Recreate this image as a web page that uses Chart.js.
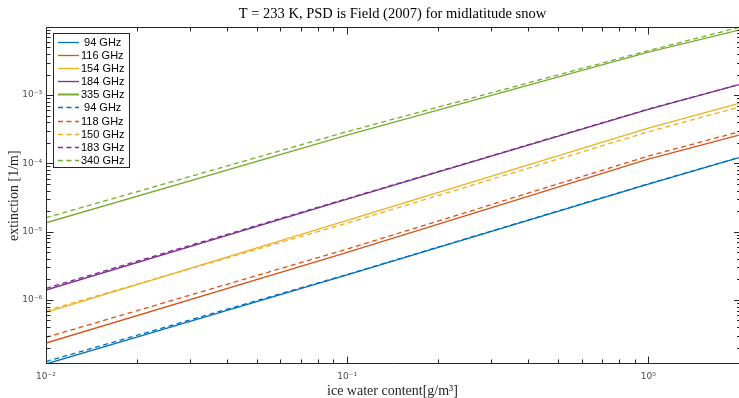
<!DOCTYPE html>
<html>
<head>
<meta charset="utf-8">
<script src="https://cdn.jsdelivr.net/npm/chart.js@4/dist/chart.umd.min.js"></script>
<style>
html,body{margin:0;padding:0;background:#fff;}
#wrap{width:739px;height:398px;position:relative;}
</style>
</head>
<body>
<div id="wrap"><canvas id="c" width="739" height="398"></canvas></div>
<script>
// ---- data ----
const iwc = [0.01, 0.1, 1, 2];               // ice water content [g/m^3]
const seriesLabels = [' 94 GHz','116 GHz','154 GHz','184 GHz','335 GHz',' 94 GHz','118 GHz','150 GHz','183 GHz','340 GHz'];
const solid94  = [1.153e-7, 2.32e-6, 4.98e-5, 1.216e-4];
const solid116 = [2.34e-7, 4.98e-6, 1.156e-4, 2.60e-4];
const solid154 = [6.58e-7, 1.463e-5, 3.29e-4, 7.56e-4];
const solid184 = [1.396e-6, 3.00e-5, 6.18e-4, 1.426e-3];
const solid335 = [1.349e-5, 2.60e-4, 4.27e-3, 8.96e-3];
const dash94   = [1.25e-7, 2.36e-6, 5.02e-5, 1.22e-4];
const dash118  = [2.83e-7, 5.56e-6, 1.279e-4, 2.90e-4];
const dash150  = [6.95e-7, 1.336e-5, 2.90e-4, 6.67e-4];
const dash183  = [1.479e-6, 3.05e-5, 6.24e-4, 1.426e-3];
const dash340  = [1.60e-5, 2.92e-4, 4.48e-3, 9.79e-3];
const xTickValues = [0.01, 0.1, 1];
const yTickValues = [1e-6, 1e-5, 1e-4, 1e-3];

const colors = ['#0072BD','#D95319','#EDB120','#7E2F8E','#77AC30'];
const allSeries = [solid94, solid116, solid154, solid184, solid335, dash94, dash118, dash150, dash183, dash340];

const datasets = allSeries.map((vals, i) => ({
  label: seriesLabels[i],
  data: iwc.map((x, j) => ({x: x, y: vals[j]})),
  borderColor: colors[i % 5],
  backgroundColor: colors[i % 5],
  borderWidth: 1.3,
  borderDash: i >= 5 ? [5, 3.5] : [],
  pointRadius: 0,
  fill: false,
  tension: 0
}));

const sup = {'-':'\u207B','0':'\u2070','1':'\u00B9','2':'\u00B2','3':'\u00B3','4':'\u2074','5':'\u2075','6':'\u2076','7':'\u2077','8':'\u2078','9':'\u2079'};
function powLabel(v){
  const e = Math.round(Math.log10(v));
  return '10' + String(e).split('').map(c => sup[c]).join('');
}
function isPow10(v){ const l = Math.log10(v); return Math.abs(l - Math.round(l)) < 1e-9; }
function logSubTicks(min, max){
  const out = [];
  for (let e = Math.floor(Math.log10(min)); e <= Math.ceil(Math.log10(max)); e++){
    for (let k = 1; k <= 9; k++){
      const v = k * Math.pow(10, e);
      if (v >= min * 0.9999 && v <= max * 1.0001) out.push({v: v, major: k === 1});
    }
  }
  return out;
}

const axisBox = {
  id: 'axisBox',
  afterDatasetsDraw(chart){
    const {ctx, chartArea: a, scales: {x, y}} = chart;
    ctx.save();
    ctx.strokeStyle = '#262626';
    ctx.lineWidth = 1;
    const L = Math.round(a.left) + 0.5, T = Math.round(a.top) + 0.5, B = Math.round(a.bottom) - 0.5, R = a.right + 2;
    ctx.beginPath();
    ctx.moveTo(L, T); ctx.lineTo(R, T);
    ctx.moveTo(L, T); ctx.lineTo(L, B);
    ctx.moveTo(L, B); ctx.lineTo(R, B);
    for (const t of logSubTicks(x.min, x.max)){
      const px = Math.round(x.getPixelForValue(t.v)) + 0.5;
      const len = t.major ? 7 : 4;
      ctx.moveTo(px, B); ctx.lineTo(px, B - len);
      ctx.moveTo(px, T); ctx.lineTo(px, T + len);
    }
    const Rx = a.right + 2;
    for (const t of logSubTicks(y.min, y.max)){
      const py = Math.round(y.getPixelForValue(t.v)) + 0.5;
      const len = t.major ? 7 : 4;
      ctx.moveTo(L, py); ctx.lineTo(L + len, py);
      ctx.moveTo(Rx, py); ctx.lineTo(Rx - len, py);
    }
    ctx.stroke();
    ctx.restore();
  },
  afterDraw(chart){
    const {ctx} = chart;
    ctx.save();
    const x0 = 53.5, y0 = 33.5, w = 76, h = 134;
    ctx.fillStyle = '#ffffff';
    ctx.fillRect(x0, y0, w, h);
    ctx.strokeStyle = '#262626';
    ctx.lineWidth = 1;
    ctx.strokeRect(x0, y0, w, h);
    ctx.font = '11px "Liberation Sans", Arial, sans-serif';
    ctx.textBaseline = 'middle';
    ctx.textAlign = 'left';
    chart.data.datasets.forEach((ds, i) => {
      const cy = Math.round(41.7 + i * 13.15) + 0.5;
      ctx.strokeStyle = ds.borderColor;
      ctx.lineWidth = i === 4 ? 2 : 1.3;
      ctx.setLineDash(ds.borderDash);
      ctx.beginPath();
      ctx.moveTo(58, cy); ctx.lineTo(79, cy);
      ctx.stroke();
      ctx.setLineDash([]);
      ctx.fillStyle = '#000';
      ctx.fillText(ds.label, 81, cy + 0.5);
    });
    ctx.restore();
  }
};

new Chart(document.getElementById('c'), {
  type: 'line',
  data: { datasets: datasets },
  options: {
    responsive: false,
    animation: false,
    devicePixelRatio: 1,
    layout: { padding: 0 },
    plugins: {
      legend: { display: false },
      tooltip: { enabled: false },
      title: {
        display: true,
        fullSize: false,
        text: 'T = 233 K, PSD is Field (2007) for midlatitude snow',
        color: '#000',
        font: { family: '"Liberation Serif", "DejaVu Serif", serif', size: 14.5, weight: 'normal' },
        padding: { top: 5, bottom: 5 }
      }
    },
    scales: {
      x: {
        type: 'logarithmic',
        position: 'bottom',
        min: 0.01,
        max: 2,
        grid: { display: false, drawTicks: false },
        border: { display: false },
        afterBuildTicks: s => { s.ticks = xTickValues.map(v => ({value: v})); },
        afterFit: s => { s.height = 34; },
        ticks: {
          autoSkip: false, maxRotation: 0, padding: 7,
          color: '#4d4d4d',
          font: { family: '"DejaVu Sans", sans-serif', size: 9 },
          callback: v => isPow10(v) ? powLabel(v) : ''
        },
        title: {
          display: true,
          text: 'ice water content[g/m\u00B3]',
          color: '#262626',
          font: { family: '"Liberation Serif", "DejaVu Serif", serif', size: 14, lineHeight: 1 },
          padding: 0
        }
      },
      y: {
        type: 'logarithmic',
        position: 'left',
        min: 1.153e-7,
        max: 9.8e-3,
        grid: { display: false, drawTicks: false },
        border: { display: false },
        afterBuildTicks: s => { s.ticks = yTickValues.map(v => ({value: v})); },
        afterFit: s => { s.width = 46; },
        ticks: {
          autoSkip: false, padding: 4,
          color: '#4d4d4d',
          font: { family: '"DejaVu Sans", sans-serif', size: 9 },
          callback: v => isPow10(v) ? powLabel(v) : ''
        },
        title: {
          display: true,
          text: 'extinction [1/m]',
          color: '#262626',
          font: { family: '"Liberation Serif", "DejaVu Serif", serif', size: 14 },
          padding: { top: 6, bottom: 0 }
        }
      }
    }
  },
  plugins: [axisBox]
});
</script>
</body>
</html>
